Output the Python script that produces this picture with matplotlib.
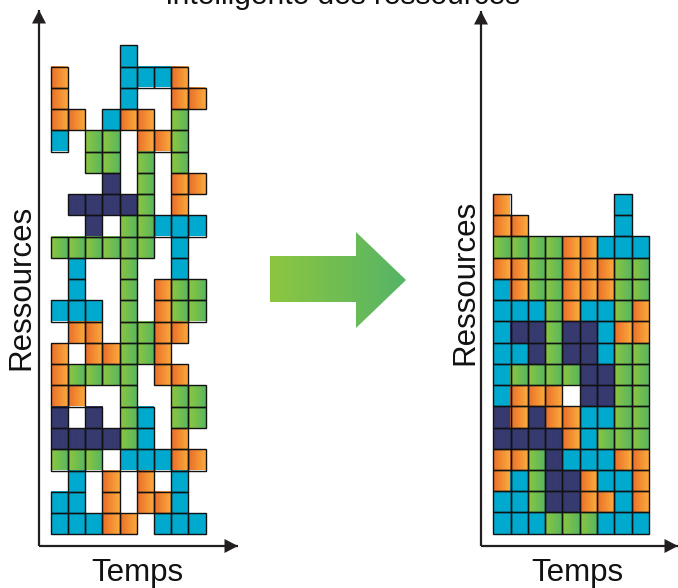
import numpy as np
import matplotlib
matplotlib.use('Agg')
import matplotlib.pyplot as plt
from matplotlib.patches import Rectangle, Polygon
from matplotlib.colors import to_rgb

plt.rcParams['font.family'] = ['Liberation Sans', 'DejaVu Sans']

# Cell codes: O orange, G green, C cyan, N navy, . empty (rows listed top to bottom)
before_rows = [
    "....C....",
    "O...CCCO.",
    "O...C..OO",
    "OO.COO.G.",
    "C.GG.OOG.",
    "..GG.G.G.",
    "...N.G.OO",
    ".NNNNG.O.",
    "..N.GGCCC",
    "GGGGGG.C.",
    ".C..G..C.",
    ".C..G.OGG",
    "CCC.G.OGG",
    ".OO.GGOO.",
    "O.OOGGO..",
    "OGGGG.OO.",
    "OO..G..GG",
    "N.N.GC.GG",
    "NNNNGC.O.",
    "GGG.CCCOO",
    ".C.O.O.C.",
    "CC.O.OOC.",
    "CCCOO.CCC",
]

after_rows = [
    "O......C.",
    "OO.....C.",
    "GGGGOOCCC",
    "OOGGOOOGG",
    "COGGOOOGG",
    "CCCGOCCGO",
    "CNNGNNCOO",
    "CCNGNNCGG",
    "CGGGGNNGG",
    "COOO.NNGG",
    "NONOOCCGG",
    "NNNNOCGGG",
    "OOGNCCCOO",
    "OCGNNOCCO",
    "CCGNNOOCO",
    "CCCGGGCCC",
]

title_text = "intelligente des ressources"
x_label = "Temps"
y_label = "Ressources"

# gradient colours (left -> right) per code
palette = {
    'O': ('#ea6e29', '#fbab3c'),
    'G': ('#8dc63f', '#58b660'),
    'C': ('#00a9ce', '#00a9ce'),
    'N': ('#363a6f', '#363a6f'),
}

W, H = 678, 588
fig = plt.figure(figsize=(W / 100, H / 100), dpi=100)

# overlay axes in pixel coordinates for decorations
ov = fig.add_axes([0, 0, 1, 1])
ov.set_xlim(0, W)
ov.set_ylim(H, 0)
ov.axis('off')


def draw_grid(rows, rect):
    ax = fig.add_axes(rect)
    nrows = len(rows)
    ncols = len(rows[0])
    S = 24
    img = np.zeros((nrows, ncols * S, 4))
    for r, line in enumerate(rows):
        for c, code in enumerate(line):
            if code == '.':
                continue
            a = np.array(to_rgb(palette[code][0]))
            b = np.array(to_rgb(palette[code][1]))
            for j in range(S):
                t = (j + 0.5) / S
                img[r, c * S + j, :3] = a * (1 - t) + b * t
                img[r, c * S + j, 3] = 1.0
    ax.imshow(img, extent=(0, ncols, nrows, 0), aspect='auto',
              interpolation='nearest')
    for r, line in enumerate(rows):
        for c, code in enumerate(line):
            if code == '.':
                continue
            ax.add_patch(Rectangle((c, r), 1, 1, fill=False, ec='#111111',
                                   lw=1.0, clip_on=False))
    ax.set_xlim(0, ncols)
    ax.set_ylim(nrows, 0)
    ax.axis('off')
    return ax


draw_grid(before_rows, [50.7 / W, (H - 534.3) / H, 155.0 / W, 489.0 / H])
draw_grid(after_rows, [493.3 / W, (H - 533.7) / H, 155.7 / W, 339.7 / H])


def axis_arrow(x0, y0, x1, y1):
    lc = '#231f20'
    ov.plot([x0, x1], [y0, y1], color=lc, lw=1.6, solid_capstyle='butt',
            clip_on=False)
    hl, hw = 13.5, 7.0
    d = np.array([x1 - x0, y1 - y0], dtype=float)
    d /= np.hypot(*d)
    p = np.array([-d[1], d[0]])
    tip = np.array([x1, y1])
    base = tip - d * hl
    ov.add_patch(Polygon([tip, base + p * hw, base - p * hw], closed=True,
                         fc=lc, ec='none', clip_on=False))


# left axes
axis_arrow(39, 546, 39, 10)
axis_arrow(39, 546, 238, 546)
# right axes
axis_arrow(481, 546, 481, 11)
axis_arrow(481, 546, 678, 546)

# big gradient arrow
arrow_pts = [(270, 256), (356, 256), (356, 232), (406, 280), (356, 328),
             (356, 302), (270, 302)]
poly = Polygon(arrow_pts, closed=True, fc='none', ec='none')
ov.add_patch(poly)
grad = np.linspace(0, 1, 200)
ca = np.array(to_rgb('#8cc640'))
cb = np.array(to_rgb('#55b466'))
gimg = (ca[None, :] * (1 - grad[:, None]) + cb[None, :] * grad[:, None])[None, :, :]
im = ov.imshow(gimg, extent=(270, 406, 328, 232), aspect='auto',
               interpolation='bilinear')
im.set_clip_path(poly)
ov.set_xlim(0, W)
ov.set_ylim(H, 0)

# texts
fs = 22.5
ov.text(137, 573, x_label, ha='center', va='center', fontsize=fs, color='#111111')
ov.text(577, 573, x_label, ha='center', va='center', fontsize=fs, color='#111111')
ov.text(21, 287, y_label, ha='center', va='center', rotation=90, fontsize=fs,
        color='#111111')
ov.text(465, 282, y_label, ha='center', va='center', rotation=90, fontsize=fs,
        color='#111111')
ov.text(343, 4.5, title_text, ha='center', va='baseline', fontsize=21.5,
        color='#111111')

fig.savefig('out.png', dpi=100)
